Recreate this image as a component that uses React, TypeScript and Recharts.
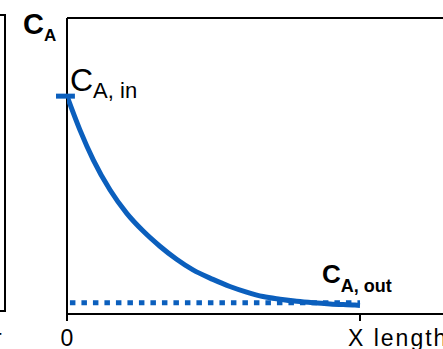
import { LineChart, Line, XAxis, YAxis, ReferenceLine } from "recharts";

// ── Data ──────────────────────────────────────────────────────────────────────

const curveX = [0, 0.044, 0.09, 0.147, 0.204, 0.259, 0.317, 0.374, 0.43, 0.498, 0.556, 0.613, 0.669, 0.727, 0.784, 0.84, 0.898, 0.983, 1];
const curveC = [0.736, 0.622, 0.52, 0.419, 0.34, 0.281, 0.229, 0.185, 0.149, 0.117, 0.093, 0.074, 0.059, 0.05, 0.043, 0.038, 0.034, 0.03, 0.029];

const outletX = [0.01, 1];
const outletC = [0.038, 0.038];

const inletC = 0.736;
const inletTickX = [-0.0375, 0.027];

const tickValues = [0, 1];
const tickLabels = ["0", "X length"];

const curveData = curveX.map((x, i) => ({ x, c: curveC[i] }));
const outletData = outletX.map((x, i) => ({ x, c: outletC[i] }));

const BLUE = "#0b5fbd";
const FONT = "'Liberation Sans', Arial, sans-serif";

function XTick({ x, payload }: { x?: number; payload?: { value: number } }) {
  const i = tickValues.indexOf(payload?.value ?? -1);
  const first = i === 0;
  return (
    <text
      x={first ? x : (x ?? 0) - 12}
      y={346}
      textAnchor={first ? "middle" : "start"}
      fontSize={23}
      letterSpacing={first ? 0 : 2}
      fontFamily={FONT}
      fill="#000"
    >
      {tickLabels[i]}
    </text>
  );
}

export default function App() {
  return (
    <div style={{ position: "absolute", left: 0, top: 0, width: 443, height: 349, overflow: "hidden", background: "#fff" }}>
      {/* edge of the neighbouring panel */}
      <div
        style={{
          position: "absolute",
          left: -10,
          top: 14,
          width: 16,
          height: 298,
          boxSizing: "border-box",
          border: "2px solid #000",
        }}
      />
      <LineChart width={443} height={349} margin={{ top: 18, right: 0, left: 67, bottom: 0 }}>
        <XAxis
          type="number"
          dataKey="x"
          domain={[0, 1.2833]}
          ticks={tickValues}
          allowDataOverflow
          height={35}
          tickSize={7}
          axisLine={{ stroke: "#000", strokeWidth: 2 }}
          tickLine={{ stroke: "#000", strokeWidth: 2 }}
          tick={<XTick />}
        />
        <YAxis type="number" domain={[0, 1]} width={0} tick={false} tickLine={false} axisLine={false} />
        <ReferenceLine y={1} stroke="#000" strokeWidth={2} />
        <ReferenceLine x={0} stroke="#000" strokeWidth={2} />
        <ReferenceLine
          segment={[
            { x: inletTickX[0], y: inletC },
            { x: inletTickX[1], y: inletC },
          ]}
          stroke={BLUE}
          strokeWidth={5}
          ifOverflow="visible"
        />
        <Line
          data={outletData}
          dataKey="c"
          type="linear"
          stroke={BLUE}
          strokeWidth={5}
          strokeDasharray="5.5 6"
          dot={false}
          isAnimationActive={false}
        />
        <Line
          data={curveData}
          dataKey="c"
          type="monotone"
          stroke={BLUE}
          strokeWidth={5}
          dot={false}
          isAnimationActive={false}
        />
      </LineChart>
      {/* annotations */}
      <svg
        width={443}
        height={349}
        style={{ position: "absolute", left: 0, top: 0, pointerEvents: "none" }}
        fontFamily={FONT}
      >
        <text x={23} y={34} fontSize={29} fontWeight="bold" fill="#000">
          C<tspan fontSize={17} dy={7}>A</tspan>
        </text>
        <text x={70} y={91} fontSize={32} fill="#000">
          C<tspan fontSize={22} dy={7}>A, in</tspan>
        </text>
        <text x={322} y={283} fontSize={26} fontWeight="bold" fill="#000">
          C<tspan fontSize={18} dy={9}>A, out</tspan>
        </text>
        <text x={-6} y={346} fontSize={23} fill="#000">
          r
        </text>
      </svg>
    </div>
  );
}
